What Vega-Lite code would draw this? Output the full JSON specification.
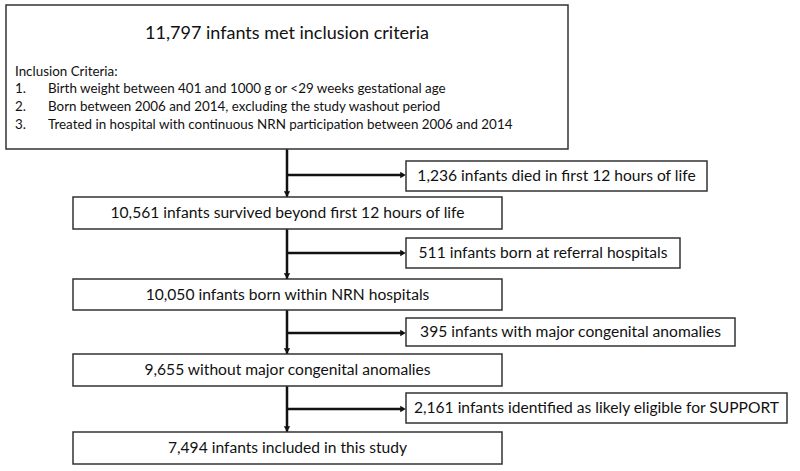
{
  "$schema": "https://vega.github.io/schema/vega-lite/v6.json",
  "width": 800,
  "height": 471,
  "padding": 0,
  "autosize": {"type": "fit", "contains": "padding"},
  "background": "white",
  "view": {"stroke": null},
  "config": {"font": "Lato"},
  "datasets": {
    "boxes": [
      {"id": "top", "x1": 6, "x2": 568, "y1": 5, "y2": 149},
      {"id": "b2", "x1": 73, "x2": 502, "y1": 197, "y2": 229},
      {"id": "b3", "x1": 73, "x2": 502, "y1": 279, "y2": 310},
      {"id": "b4", "x1": 73, "x2": 502, "y1": 354, "y2": 386},
      {"id": "b5", "x1": 73, "x2": 502, "y1": 432, "y2": 464},
      {"id": "s1", "x1": 406, "x2": 707, "y1": 161, "y2": 191},
      {"id": "s2", "x1": 406, "x2": 680, "y1": 238, "y2": 268},
      {"id": "s3", "x1": 406, "x2": 735, "y1": 318, "y2": 346},
      {"id": "s4", "x1": 406, "x2": 787, "y1": 393, "y2": 423}
    ],
    "lines": [
      {"x1": 287, "x2": 287, "y1": 149, "y2": 432},
      {"x1": 287, "x2": 403, "y1": 175, "y2": 175},
      {"x1": 287, "x2": 403, "y1": 253, "y2": 253},
      {"x1": 287, "x2": 403, "y1": 333, "y2": 333},
      {"x1": 287, "x2": 403, "y1": 409, "y2": 409}
    ],
    "downHeads": [
      {"x": 287, "y": 194},
      {"x": 287, "y": 276},
      {"x": 287, "y": 351},
      {"x": 287, "y": 429}
    ],
    "rightHeads": [
      {"x": 403, "y": 175},
      {"x": 403, "y": 253},
      {"x": 403, "y": 333},
      {"x": 403, "y": 409}
    ],
    "centerText": [
      {"x": 287.5, "y": 213, "label": "10,561 infants survived beyond first 12 hours of life"},
      {"x": 287.5, "y": 295, "label": "10,050 infants born within NRN hospitals"},
      {"x": 287.5, "y": 370, "label": "9,655 without major congenital anomalies"},
      {"x": 287.5, "y": 448, "label": "7,494 infants included in this study"},
      {"x": 556.5, "y": 176, "label": "1,236 infants died in first 12 hours of life"},
      {"x": 543, "y": 253, "label": "511 infants born at referral hospitals"},
      {"x": 570.5, "y": 332, "label": "395 infants with major congenital anomalies"},
      {"x": 596.5, "y": 408, "label": "2,161 infants identified as likely eligible for SUPPORT"}
    ],
    "leftText": [
      {"x": 15, "y": 72, "label": "Inclusion Criteria:"},
      {"x": 15, "y": 89, "label": "1."},
      {"x": 15, "y": 107, "label": "2."},
      {"x": 15, "y": 125, "label": "3."},
      {"x": 48, "y": 89, "label": "Birth weight between 401 and 1000 g or <29 weeks gestational age"},
      {"x": 48, "y": 107, "label": "Born between 2006 and 2014, excluding the study washout period"},
      {"x": 48, "y": 125, "label": "Treated in hospital with continuous NRN participation between 2006 and 2014"}
    ],
    "title": [
      {"x": 287, "y": 34, "label": "11,797 infants met inclusion criteria"}
    ]
  },
  "layer": [
    {
      "data": {"name": "lines"},
      "mark": {"type": "rule", "stroke": "#111", "strokeWidth": 2.5},
      "encoding": {
        "x": {"field": "x1", "type": "quantitative", "scale": {"domain": [0, 800]}, "axis": null},
        "x2": {"field": "x2"},
        "y": {"field": "y1", "type": "quantitative", "scale": {"domain": [471, 0]}, "axis": null},
        "y2": {"field": "y2"}
      }
    },
    {
      "data": {"name": "boxes"},
      "mark": {"type": "rect", "fill": "white", "stroke": "#333", "strokeWidth": 1.5},
      "encoding": {
        "x": {"field": "x1", "type": "quantitative", "scale": {"domain": [0, 800]}, "axis": null},
        "x2": {"field": "x2"},
        "y": {"field": "y1", "type": "quantitative", "scale": {"domain": [471, 0]}, "axis": null},
        "y2": {"field": "y2"}
      }
    },
    {
      "data": {"name": "downHeads"},
      "mark": {"type": "point", "shape": "triangle-down", "filled": true, "color": "#111", "size": 40, "opacity": 1},
      "encoding": {
        "x": {"field": "x", "type": "quantitative", "scale": {"domain": [0, 800]}, "axis": null},
        "y": {"field": "y", "type": "quantitative", "scale": {"domain": [471, 0]}, "axis": null}
      }
    },
    {
      "data": {"name": "rightHeads"},
      "mark": {"type": "point", "shape": "triangle-right", "filled": true, "color": "#111", "size": 40, "opacity": 1},
      "encoding": {
        "x": {"field": "x", "type": "quantitative", "scale": {"domain": [0, 800]}, "axis": null},
        "y": {"field": "y", "type": "quantitative", "scale": {"domain": [471, 0]}, "axis": null}
      }
    },
    {
      "data": {"name": "centerText"},
      "mark": {"type": "text", "align": "center", "baseline": "middle", "fontSize": 15.6, "color": "#111"},
      "encoding": {
        "x": {"field": "x", "type": "quantitative", "scale": {"domain": [0, 800]}, "axis": null},
        "y": {"field": "y", "type": "quantitative", "scale": {"domain": [471, 0]}, "axis": null},
        "text": {"field": "label"}
      }
    },
    {
      "data": {"name": "leftText"},
      "mark": {"type": "text", "align": "left", "baseline": "middle", "fontSize": 13.4, "color": "#111"},
      "encoding": {
        "x": {"field": "x", "type": "quantitative", "scale": {"domain": [0, 800]}, "axis": null},
        "y": {"field": "y", "type": "quantitative", "scale": {"domain": [471, 0]}, "axis": null},
        "text": {"field": "label"}
      }
    },
    {
      "data": {"name": "title"},
      "mark": {"type": "text", "align": "center", "baseline": "middle", "fontSize": 18, "color": "#111"},
      "encoding": {
        "x": {"field": "x", "type": "quantitative", "scale": {"domain": [0, 800]}, "axis": null},
        "y": {"field": "y", "type": "quantitative", "scale": {"domain": [471, 0]}, "axis": null},
        "text": {"field": "label"}
      }
    }
  ]
}
